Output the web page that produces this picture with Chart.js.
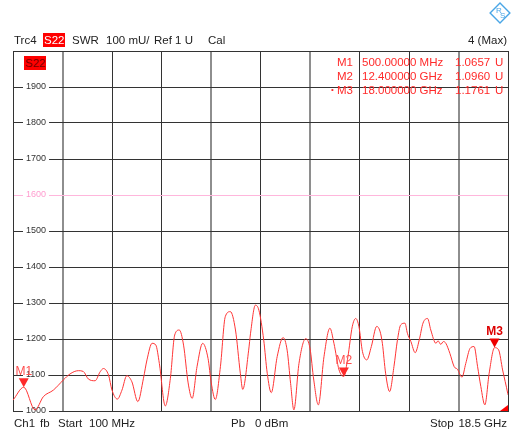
<!DOCTYPE html>
<html lang="en">
<head>
    <meta charset="UTF-8">
    <title>Trc4 S22 SWR</title>
    <!-- Chart.js -->
    <script src="https://cdn.jsdelivr.net/npm/chart.js"></script>
    <style>
        body {
            margin: 0;
            background: #fff;
            font-family: "Liberation Sans", Arial, sans-serif;
        }
        .screen {
            position: relative;
            width: 514px;
            height: 433px;
            overflow: hidden;
        }
        .screen canvas {
            position: absolute;
            left: 0;
            top: 0;
        }
        .txt {
            position: absolute;
            font-size: 11.5px;
            line-height: 14px;
            white-space: nowrap;
            color: #222;
        }
        .red { color: #ff2a2a; }
        .tag {
            background: #ff0000;
            padding: 0 1px;
        }
        .logo {
            position: absolute;
            left: 488px;
            top: 1px;
        }
    </style>
</head>
<body>
    <div class="screen">
        <canvas id="swrChart" width="514" height="433"></canvas>

        <!-- R&S logo -->
        <svg class="logo" width="24" height="24" viewBox="0 0 24 24">
            <rect x="5" y="5" width="14" height="14" fill="none" stroke="#4aa6e6" stroke-width="1.4" transform="rotate(45 12 12)"/>
            <text x="8" y="12" font-size="8" fill="#4aa6e6" font-family="Liberation Sans">R</text>
            <text x="12" y="17" font-size="8" fill="#4aa6e6" font-family="Liberation Sans">S</text>
        </svg>

        <!-- Header line -->
        <div class="txt" style="left:14px;top:33px;">Trc4</div>
        <div class="txt tag" style="left:43px;top:33px;color:#fff;">S22</div>
        <div class="txt" style="left:72px;top:33px;">SWR</div>
        <div class="txt" style="left:106px;top:33px;">100 mU/</div>
        <div class="txt" style="left:154px;top:33px;">Ref 1 U</div>
        <div class="txt" style="left:208px;top:33px;">Cal</div>
        <div class="txt" style="right:7px;top:33px;">4 (Max)</div>

        <!-- Trace tag inside the diagram -->
        <div class="txt tag" style="left:24px;top:56px;color:#7a0000;">S22</div>

        <!-- Marker table -->
        <div class="txt red" style="left:337px;top:55px;">M1</div>
        <div class="txt red" style="left:362px;top:55px;">500.00000 MHz</div>
        <div class="txt red" style="left:455px;top:55px;">1.0657</div>
        <div class="txt red" style="left:495px;top:55px;">U</div>
        <div class="txt red" style="left:337px;top:69px;">M2</div>
        <div class="txt red" style="left:362px;top:69px;">12.400000 GHz</div>
        <div class="txt red" style="left:455px;top:69px;">1.0960</div>
        <div class="txt red" style="left:495px;top:69px;">U</div>
        <div class="txt red" style="left:331px;top:83px;font-size:8px;">&bull;</div>
        <div class="txt red" style="left:337px;top:83px;">M3</div>
        <div class="txt red" style="left:362px;top:83px;">18.000000 GHz</div>
        <div class="txt red" style="left:455px;top:83px;">1.1761</div>
        <div class="txt red" style="left:495px;top:83px;">U</div>

        <!-- Footer line -->
        <div class="txt" style="left:14px;top:416px;">Ch1</div>
        <div class="txt" style="left:40px;top:416px;">fb</div>
        <div class="txt" style="left:58px;top:416px;">Start</div>
        <div class="txt" style="left:89px;top:416px;">100 MHz</div>
        <div class="txt" style="left:231px;top:416px;">Pb</div>
        <div class="txt" style="left:255px;top:416px;">0 dBm</div>
        <div class="txt" style="left:430px;top:416px;">Stop</div>
        <div class="txt" style="right:7px;top:416px;">18.5 GHz</div>
    </div>

    <script>
        // Trace data: frequency in GHz, SWR in mU
        const freqGHz = [
            0.1, 0.5, 0.92, 1.23, 1.60, 1.97, 2.22, 2.53, 2.71, 2.90,
            3.15, 3.34, 3.46, 3.65, 3.78, 3.98, 4.15, 4.33, 4.52, 4.74,
            4.95, 5.08, 5.27, 5.41, 5.54, 5.76, 5.95, 6.11, 6.28, 6.44,
            6.61, 6.76, 6.94, 7.15, 7.35, 7.47, 7.62, 7.81, 7.99, 8.18,
            8.37, 8.55, 8.64, 8.86, 8.93, 9.11, 9.24, 9.42, 9.55, 9.70,
            9.92, 10.14, 10.29, 10.42, 10.54, 10.73, 10.98, 11.14, 11.28, 11.45,
            11.66, 11.88, 12.03, 12.22, 12.40, 12.55, 12.71, 12.84, 12.96, 13.09,
            13.25, 13.42, 13.62, 13.74, 13.83, 13.95, 14.10, 14.26, 14.39, 14.51,
            14.67, 14.76, 14.89, 15.05, 15.20, 15.34, 15.51, 15.63, 15.82, 15.90,
            16.00, 16.10, 16.19, 16.34, 16.50, 16.62, 16.79, 16.93, 17.09, 17.24,
            17.37, 17.49, 17.64, 17.80, 18.00, 18.15, 18.30, 18.49, 18.5
        ];
        const swrValues = [
            1030, 1066, 1003, 1040, 1058, 1086, 1103, 1112, 1110, 1089,
            1084, 1109, 1118, 1100, 1058, 1033, 1058, 1098, 1081, 1026,
            1091, 1142, 1188, 1183, 1132, 1014, 1091, 1211, 1225, 1183,
            1078, 1035, 1123, 1188, 1146, 1078, 1032, 1123, 1262, 1276,
            1225, 1105, 1060, 1169, 1216, 1294, 1280, 1197, 1105, 1051,
            1151, 1204, 1169, 1076, 1003, 1132, 1201, 1174, 1086, 1017,
            1151, 1230, 1188, 1114, 1096, 1151, 1234, 1257, 1234, 1165,
            1142, 1179, 1235, 1222, 1188, 1105, 1054, 1123, 1197, 1239,
            1244, 1216, 1193, 1162, 1197, 1244, 1257, 1225, 1188, 1195,
            1185, 1193, 1188, 1160, 1123, 1116, 1094, 1132, 1174, 1179,
            1123, 1068, 1017, 1105, 1176, 1170, 1114, 1049, 1045
        ];

        // Vertical divisions (start to stop, 10 divisions)
        const xGridGHz = [0.1, 1.94, 3.78, 5.62, 7.46, 9.3, 11.14, 12.98, 14.82, 16.66, 18.5];

        // Markers
        const markerNames = ['M1', 'M2', 'M3'];
        const markerFreqs = [0.5, 12.4, 18.0];
        const markerValues = [1065.7, 1096.0, 1176.1];

        const refLine = 1600;

        // Draws the marker triangles with their names on top of the trace
        const markerPlugin = {
            id: 'markers',
            afterDatasetsDraw(chart) {
                const { ctx, scales: { x, y }, chartArea } = chart;
                ctx.save();
                markerNames.forEach((name, i) => {
                    const px = x.getPixelForValue(markerFreqs[i]);
                    const py = y.getPixelForValue(markerValues[i]);
                    const active = i === markerNames.length - 1;
                    ctx.fillStyle = active ? '#ee0000' : '#ff2a2a';
                    ctx.beginPath();
                    ctx.moveTo(px, py);
                    ctx.lineTo(px - 5, py - 9);
                    ctx.lineTo(px + 5, py - 9);
                    ctx.closePath();
                    ctx.fill();
                    ctx.fillStyle = active ? '#dd0000' : '#ff4d4d';
                    ctx.font = (active ? 'bold ' : '') + '12px "Liberation Sans", Arial, sans-serif';
                    ctx.textAlign = 'center';
                    ctx.textBaseline = 'bottom';
                    ctx.fillText(name, px, py - 10);
                });
                // little off-screen indicator in the bottom right corner
                ctx.fillStyle = '#ff0000';
                ctx.beginPath();
                ctx.moveTo(chartArea.right, chartArea.bottom);
                ctx.lineTo(chartArea.right - 8, chartArea.bottom);
                ctx.lineTo(chartArea.right, chartArea.bottom - 6);
                ctx.closePath();
                ctx.fill();
                ctx.restore();
            }
        };

        const ctxSwr = document.getElementById('swrChart').getContext('2d');
        new Chart(ctxSwr, {
            type: 'line',
            data: {
                datasets: [{
                    data: freqGHz.map((f, i) => ({ x: f, y: swrValues[i] })),
                    borderColor: '#ff3535',
                    borderWidth: 1,
                    pointRadius: 0,
                    cubicInterpolationMode: 'monotone'
                }]
            },
            options: {
                responsive: false,
                animation: false,
                layout: {
                    padding: { left: 13, top: 51, right: 6, bottom: 22 }
                },
                plugins: {
                    legend: { display: false },
                    tooltip: { enabled: false }
                },
                scales: {
                    x: {
                        type: 'linear',
                        min: 0.1,
                        max: 18.5,
                        afterBuildTicks: scale => {
                            scale.ticks = xGridGHz.map(v => ({ value: v }));
                        },
                        ticks: { display: false },
                        grid: {
                            drawTicks: false,
                            color: c => [1, 4, 6, 9].includes(c.index) ? '#8e8e8e' : '#333',
                            lineWidth: c => [1, 4, 6, 9].includes(c.index) ? 2 : 1
                        },
                        border: { color: '#333' }
                    },
                    y: {
                        min: 1000,
                        max: 2000,
                        // mirrored labels sit inside the diagram, so the axis takes no room
                        afterFit: scale => { scale.width = 0; },
                        ticks: {
                            stepSize: 100,
                            mirror: true,
                            padding: 13,
                            font: { size: 9, family: '"Liberation Sans", Arial, sans-serif' },
                            color: c => c.tick && c.tick.value === refLine ? '#ff9ccf' : '#333',
                            callback: v => v === 2000 ? '' : v,
                            showLabelBackdrop: c => !(c.tick && c.tick.value === 2000),
                            backdropColor: '#fff',
                            backdropPadding: { left: 3, right: 3, top: 0, bottom: 0 }
                        },
                        grid: {
                            drawTicks: false,
                            color: c => c.tick && c.tick.value === refLine ? '#ffb6dc' : '#333'
                        },
                        border: { color: '#333' }
                    }
                }
            },
            plugins: [markerPlugin]
        });
    </script>
</body>
</html>
